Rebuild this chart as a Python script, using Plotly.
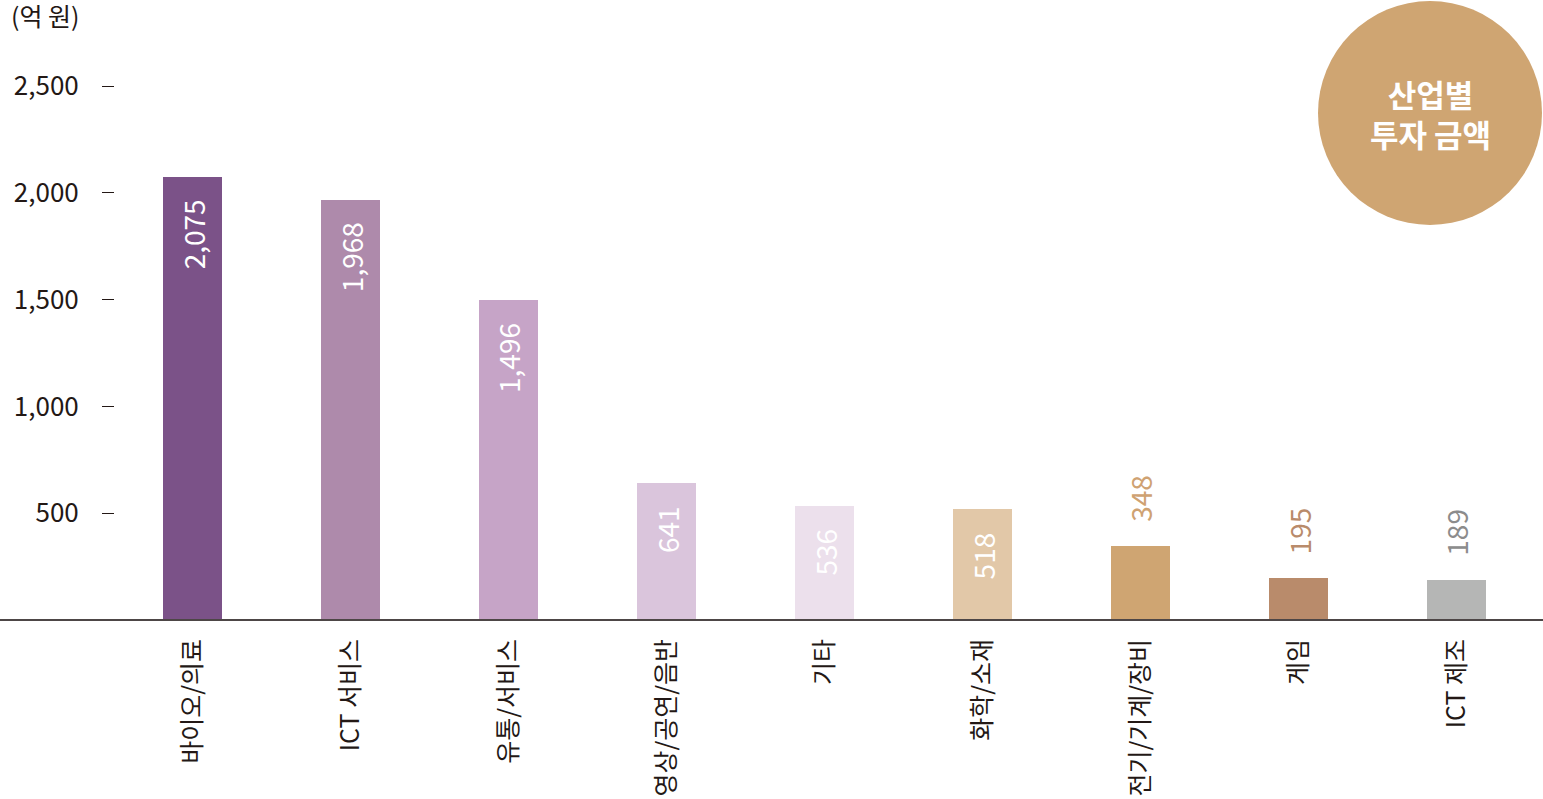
import plotly.graph_objects as go

categories = ["바이오/의료", "ICT 서비스", "유통/서비스", "영상/공연/음반", "기타",
              "화학/소재", "전기/기계/장비", "게임", "ICT 제조"]
values = [2075, 1968, 1496, 641, 536, 518, 348, 195, 189]
bar_colors = ["#7b5288", "#ae8aab", "#c6a4c7", "#dac5dc", "#ece0ec",
              "#e2c8a8", "#cfa572", "#b98b6b", "#b5b6b5"]
label_colors = ["#ffffff", "#ffffff", "#ffffff", "#ffffff", "#ffffff",
                "#ffffff", "#cfa272", "#b98b6b", "#8c8c8c"]
y_ticks = [500, 1000, 1500, 2000, 2500]
unit_label = "(억 원)"
badge_text = "산업별<br>투자 금액"

FONT = "Noto Sans CJK KR"
TXT = "#231815"

W, H = 1543, 799
ML, MR, MT, MB = 115, 0, 0, 179
PW, PH = W - ML - MR, H - MT - MB

fig = go.Figure()
fig.add_trace(go.Bar(
    x=list(range(len(categories))), y=values,
    marker=dict(color=bar_colors, line=dict(width=0)),
    width=0.373, hoverinfo="skip", showlegend=False,
))

annotations = []
for i, v in enumerate(values):
    inside = v > 400
    annotations.append(dict(
        x=i, y=v, xref="x", yref="y", text=f"{v:,}", showarrow=False,
        textangle=-90, font=dict(family=FONT, size=28, color=label_colors[i]),
        yanchor="top" if inside else "bottom", xanchor="center",
        yshift=-21 if inside else 22,
    ))

annotations.append(dict(
    x=(9 - ML) / PW, y=1 - 15 / PH, xref="paper", yref="paper",
    text=unit_label, showarrow=False, xanchor="left", yanchor="middle",
    font=dict(family=FONT, size=25, color=TXT),
))
cx, cy, r = 1430, 113, 112
annotations.append(dict(
    x=(cx - ML) / PW, y=1 - (cy - MT) / PH, xref="paper", yref="paper",
    text=badge_text, showarrow=False, xanchor="center", yanchor="middle",
    font=dict(family=FONT, size=31, color="#ffffff", weight="bold"),
))

shapes = [
    dict(type="circle", xref="paper", yref="paper",
         x0=(cx - r - ML) / PW, x1=(cx + r - ML) / PW,
         y0=1 - (cy + r - MT) / PH, y1=1 - (cy - r - MT) / PH,
         fillcolor="#cfa572", line=dict(width=0), layer="below"),
    dict(type="line", xref="paper", yref="paper",
         x0=-ML / PW, x1=1, y0=0, y1=0,
         line=dict(color="#4d4646", width=2), layer="above"),
]

fig.update_layout(
    width=W, height=H,
    margin=dict(l=ML, r=MR, t=MT, b=MB, pad=0),
    paper_bgcolor="#ffffff", plot_bgcolor="#ffffff",
    font=dict(family=FONT, color=TXT),
    annotations=annotations, shapes=shapes,
    xaxis=dict(
        range=[-0.4905, 8.547], tickmode="array",
        tickvals=list(range(len(categories))), ticktext=categories,
        tickangle=-90, ticks="", showline=False, showgrid=False, zeroline=False,
        tickfont=dict(family=FONT, size=25, color=TXT), ticklabelstandoff=13,
        fixedrange=True,
    ),
    yaxis=dict(
        range=[0, PH / (534 / 2500)], tickmode="array", tickvals=y_ticks,
        tickformat=",", ticks="outside", ticklen=12, tickwidth=1, tickcolor=TXT,
        showline=False, showgrid=False, zeroline=False,
        tickfont=dict(family=FONT, size=26, color=TXT), ticklabelstandoff=18,
        fixedrange=True,
    ),
    bargap=0,
)

fig.write_html(
    "out.html",
    config={"displayModeBar": False},
    post_script="document.body.style.margin='0';document.body.style.overflow='hidden';",
)
